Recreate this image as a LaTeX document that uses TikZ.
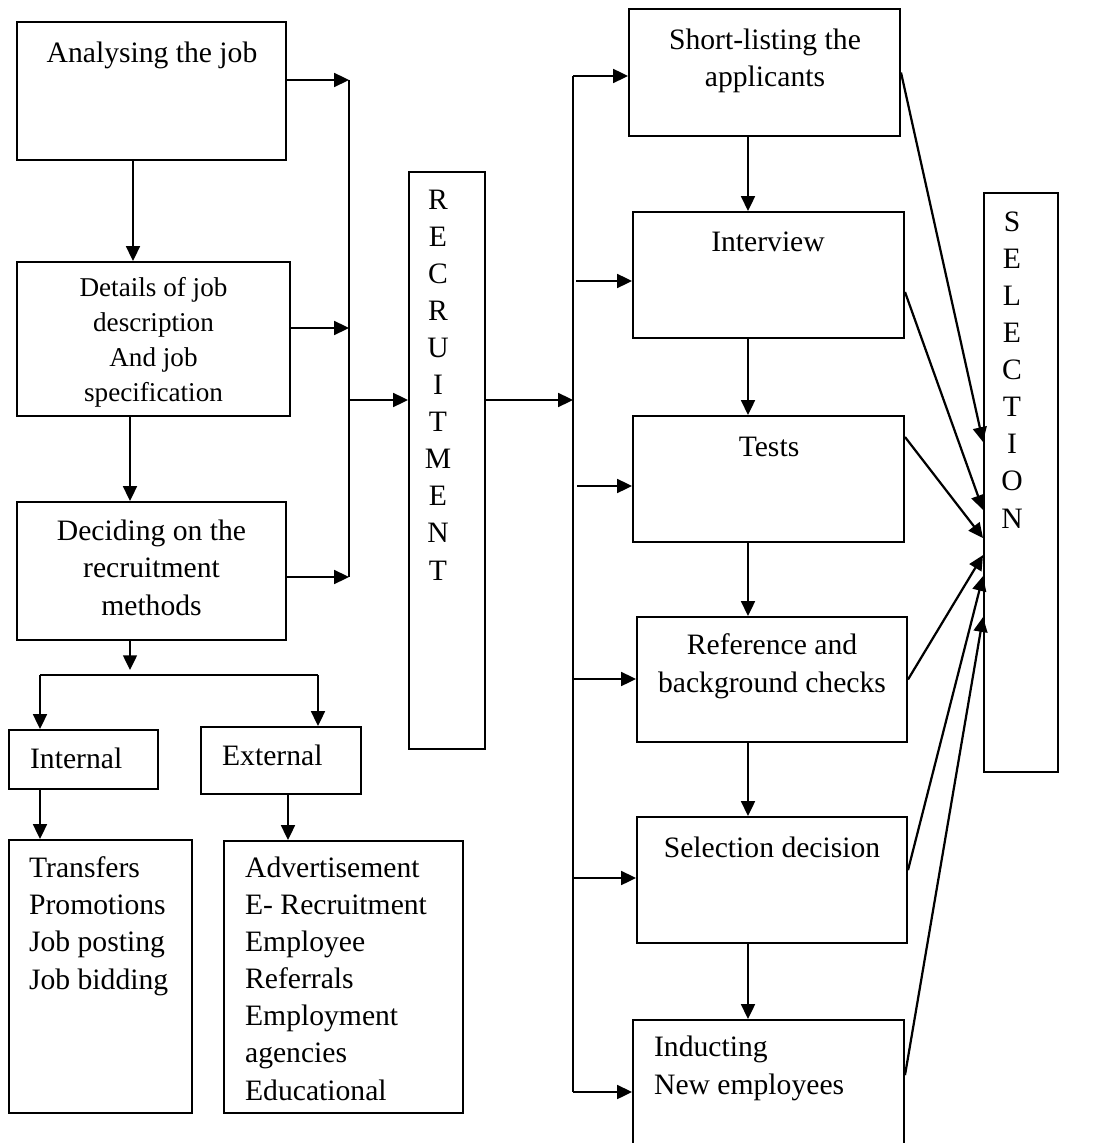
\documentclass[tikz,border=0pt]{standalone}
\usepackage{fontspec}
\setmainfont{Liberation Serif}
\usetikzlibrary{arrows.meta,fit}

\begin{document}
\begin{tikzpicture}[x=0.405pt, y=-0.405pt, line width=0.9pt,
    box/.style={draw, line width=0.8pt, inner sep=0pt},
    txt/.style={inner sep=0pt, anchor=base, align=center, font=\fontsize{12}{15}\selectfont},
    lft/.style={txt, align=left, anchor=base west},
    arr/.style={-{Triangle[length=6pt,width=5.6pt]}}]
	\useasboundingbox (0,0) rectangle (1117,1143);
	\clip (0,0) rectangle (1117,1143);
		\begin{scope}[every node/.style={box}]
			% left column
			\node[fit={(17,22) (286,160)}] (ana) {};
			\node[fit={(17,262) (290,416)}] (det) {};
			\node[fit={(17,502) (286,640)}] (dec) {};
			\node[fit={(9,730) (158,789)}] (int) {};
			\node[fit={(201,727) (361,794)}] (ext) {};
			\node[fit={(9,840) (192,1113)}] (intl) {};
			\node[fit={(224,841) (463,1113)}] (extl) {};
			\node[fit={(409,172) (485,749)}] (rec) {};
			% right column
			\node[fit={(629,9) (900,136)}] (sho) {};
			\node[fit={(633,212) (904,338)}] (itv) {};
			\node[fit={(633,416) (904,542)}] (tst) {};
			\node[fit={(637,617) (907,742)}] (ref) {};
			\node[fit={(637,817) (907,943)}] (sdc) {};
			\node[fit={(633,1020) (904,1150)}] (ind) {};
			\node[fit={(984,193) (1058,772)}] (sel) {};
		\end{scope}
		% texts, placed by the baseline of their last line
		\begin{scope}[every node/.style={txt}]
			\node (anat) at (152,63) {Analysing the job};
			\node[font=\fontsize{11}{14.2}\selectfont] (dett) at (153.5,402) {Details of job\\description\\And job\\specification};
			\node (dect) at (151.5,615) {Deciding on the\\recruitment\\methods};
			\node[lft] (intt) at (29,768) {Internal};
			\node[lft] (extt) at (221,765) {External};
			\node[lft] (intlt) at (28,989) {Transfers\\Promotions\\Job posting\\Job bidding};
			\node[lft] (extlt) at (244,1100) {Advertisement\\E- Recruitment\\Employee\\Referrals\\Employment\\agencies\\Educational};
			\node (rect) at (438,580) {R\\E\\C\\R\\U\\I\\T\\M\\E\\N\\T};
			\node (shot) at (765,87) {Short-listing the\\applicants};
			\node (itvt) at (768,252) {Interview};
			\node (tstt) at (769,457) {Tests};
			\node (reft) at (772,692) {Reference and\\background checks};
			\node (sdct) at (772,857) {Selection decision};
			\node[lft] (indt) at (653,1094) {Inducting\\New employees};
			\node (selt) at (1012,528) {S\\E\\L\\E\\C\\T\\I\\O\\N};
		\end{scope}
		% bus lines
		\coordinate (lb1) at (349,80);
		\coordinate (lb2) at (349,328);
		\coordinate (lb3) at (349,577);
		\coordinate (lbm) at (349,400);
		\coordinate (rb1) at (573,76);
		\coordinate (rb2) at (576,281);
		\coordinate (rb3) at (577,486);
		\coordinate (rb4) at (574,679);
		\coordinate (rb5) at (573,878);
		\coordinate (rb6) at (573,1092);
		\coordinate (rbm) at (573,400);
		\coordinate (br) at (130,675);
		\coordinate (brl) at (40,675);
		\coordinate (brr) at (318,675);
		\coordinate (ec) at (288,0);
		\coordinate (lc) at (133,0);
		\coordinate (rc) at (748,0);
		\draw[arr] (ana.east |- lb1) -- (lb1);
		\draw[arr] (det.east |- lb2) -- (lb2);
		\draw[arr] (dec.east |- lb3) -- (lb3);
		\draw (lb1) -- (lb3);
		\draw[arr] (lbm) -- (lbm -| rec.west);
		\draw[arr] (rbm -| rec.east) -- (rbm);
		\draw (rb1) -- (rb6);
		\draw[arr] (rb1) -- (rb1 -| sho.west);
		\draw[arr] (rb2) -- (rb2 -| itv.west);
		\draw[arr] (rb3) -- (rb3 -| tst.west);
		\draw[arr] (rb4) -- (rb4 -| ref.west);
		\draw[arr] (rb5) -- (rb5 -| sdc.west);
		\draw[arr] (rb6) -- (rb6 -| ind.west);
		% left column arrows
		\draw[arr] (ana.south -| lc) -- (det.north -| lc);
		\draw[arr] (det.south -| br) -- (dec.north -| br);
		\draw[arr] (dec.south -| br) -- ([yshift=2pt]br);
		\draw (brl) -- (brr);
		\draw[arr] (brl) -- (brl |- int.north);
		\draw[arr] (brr) -- (brr |- ext.north);
		\draw[arr] (int.south -| brl) -- (intl.north -| brl);
		\draw[arr] (ext.south -| ec) -- (extl.north -| ec);
		% right column arrows
		\draw[arr] (sho.south -| rc) -- (itv.north -| rc);
		\draw[arr] (itv.south -| rc) -- (tst.north -| rc);
		\draw[arr] (tst.south -| rc) -- (ref.north -| rc);
		\draw[arr] (ref.south -| rc) -- (sdc.north -| rc);
		\draw[arr] (sdc.south -| rc) -- (ind.north -| rc);
		% into selection
		\draw[arr] (sho.east) -- ([yshift=16.4pt]sel.west);
		\draw[arr] ([yshift=-6.9pt]itv.east) -- ([yshift=-11.1pt]sel.west);
		\draw[arr] ([yshift=17pt]tst.east) -- ([yshift=-22.5pt]sel.west);
		\draw[arr] (ref.east) -- ([yshift=-29.4pt]sel.west);
		\draw[arr] ([yshift=4pt]sdc.east) -- ([yshift=-37.9pt]sel.west);
		\draw[arr] ([yshift=4pt]ind.east) -- ([yshift=-54.5pt]sel.west);
\end{tikzpicture}
\end{document}
